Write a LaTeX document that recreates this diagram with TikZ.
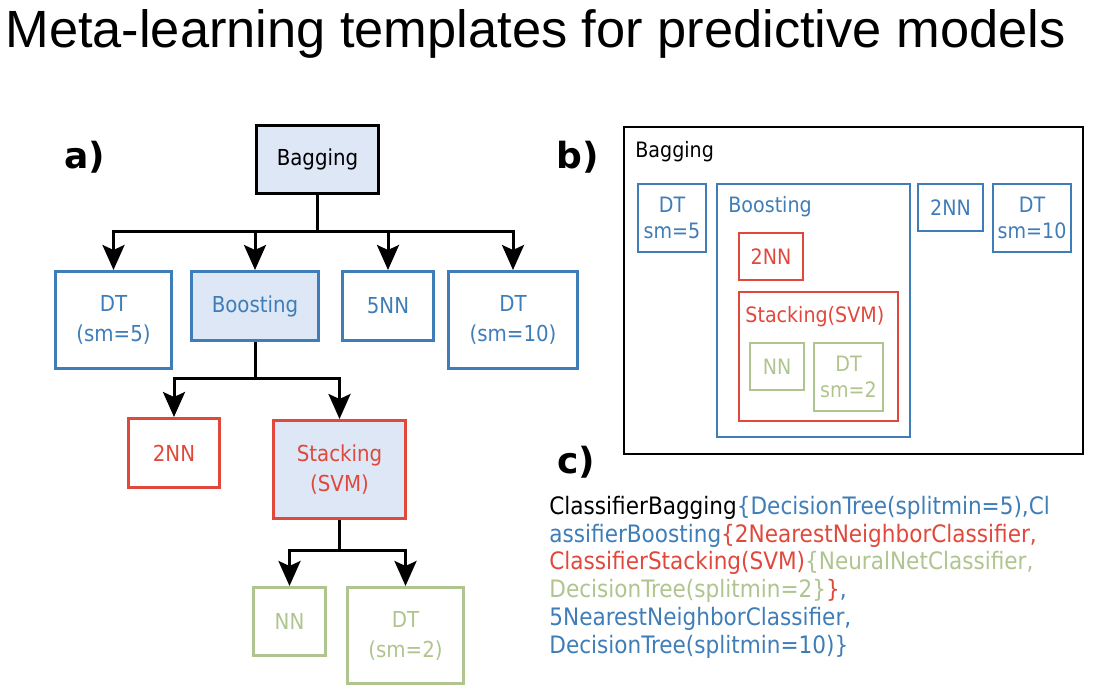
\documentclass[tikz,border=0pt]{standalone}
\usepackage{fontspec}
\usetikzlibrary{arrows.meta, positioning, calc}
\newfontfamily\titlefont{Liberation Sans}
\newfontfamily\boxfont{DejaVu Sans Condensed}
\newfontfamily\panelfont{DejaVu Sans}
\definecolor{tblue}{HTML}{3F7DB8}
\definecolor{tred}{HTML}{E0483C}
\definecolor{tgreen}{HTML}{AFC48E}
\definecolor{tfill}{HTML}{DDE7F6}

\begin{document}
\begin{tikzpicture}[
    x=0.5pt, y=-0.5pt,
    box/.style={rectangle, draw, line width=1.5pt, anchor=north west, inner sep=0pt, align=center, font=\boxfont\fontsize{11}{15}\selectfont},
    sbox/.style={box, line width=1pt, font=\boxfont\fontsize{10.6}{13}\selectfont},
    lbl/.style={anchor=base west, inner sep=0pt, font=\boxfont\fontsize{10.6}{13}\selectfont},
    panel/.style={anchor=base west, inner sep=0pt, font=\panelfont\bfseries\fontsize{18}{18}\selectfont},
    code/.style={anchor=base west, inner sep=0pt, font=\boxfont\fontsize{12}{14}\selectfont},
    arrow/.style={-{Stealth[length=12.5pt, width=11pt, inset=2.5pt]}, line width=1.5pt},
]
\useasboundingbox (0,0) rectangle (1111,691);

\node[anchor=base west, inner sep=0pt, font=\titlefont\fontsize{26.2}{30}\selectfont] (title) at (5,47) {Meta-learning templates for predictive models};

% Panel labels
\node[panel] (la) at (64,168) {a)};
\node[panel] (lb) at (556,168) {b)};
\node[panel] (lc) at (557,473) {c)};

% a) tree
\node[box, fill=tfill, minimum width=61pt, minimum height=34pt] (bag) at (255,124) {Bagging};
\node[box, draw=tblue, text=tblue, minimum width=58pt, minimum height=48.5pt] (dtA) at (54,270) {DT\\(sm=5)};
\node[box, draw=tblue, text=tblue, fill=tfill, minimum width=63.5pt, minimum height=34.5pt] (boostA) at (190,270) {Boosting};
\node[box, draw=tblue, text=tblue, minimum width=45.5pt, minimum height=34.5pt] (knnA) at (341,270) {5NN};
\node[box, draw=tblue, text=tblue, minimum width=64.5pt, minimum height=48.5pt] (dtB) at (447,270) {DT\\(sm=10)};
\node[box, draw=tred, text=tred, minimum width=45.5pt, minimum height=34.5pt] (nnA) at (127,417) {2NN};
\node[box, draw=tred, text=tred, fill=tfill, minimum width=66pt, minimum height=49pt] (stackA) at (272,419) {Stacking\\(SVM)};
\node[box, draw=tgreen, text=tgreen, minimum width=36pt, minimum height=34pt] (nnC) at (252,586) {NN};
\node[box, draw=tgreen, text=tgreen, minimum width=58pt, minimum height=48pt] (dtC) at (346,586) {DT\\(sm=2)};

\coordinate (jA) at (bag.south |- 0,231);
\coordinate (jB) at (boostA.south |- 0,378);
\coordinate (jC) at (stackA.south |- 0,550);
\draw[line width=1.5pt] (bag.south) -- (jA);
\draw[line width=1.5pt] (boostA.south) -- (jB);
\draw[line width=1.5pt] (stackA.south) -- (jC);
\foreach \c in {dtA, boostA, knnA, dtB}
    \draw[arrow] (jA) -| (\c.north);
\foreach \c in {nnA, stackA}
    \draw[arrow] (jB) -| (\c.north);
\foreach \c in {nnC, dtC}
    \draw[arrow] (jC) -| (\c.north);

% b) nested boxes
\node[sbox, line width=1.2pt, minimum width=229.5pt, minimum height=163.5pt] (outB) at (623,126) {};
\node[lbl] (outL) at (635,157) {Bagging};
\node[sbox, draw=tblue, text=tblue, minimum width=34pt, minimum height=34pt] (dt5B) at (637,183) {DT\\sm=5};
\node[sbox, draw=tblue, minimum width=96.5pt, minimum height=126.5pt] (boostB) at (716,183) {};
\node[lbl, text=tblue] (boostL) at (728,212) {Boosting};
\node[sbox, draw=tblue, text=tblue, minimum width=32.5pt, minimum height=23.5pt] (nn2B) at (917,183) {2NN};
\node[sbox, draw=tblue, text=tblue, minimum width=39pt, minimum height=34pt] (dt10B) at (992,183) {DT\\sm=10};
\node[sbox, draw=tred, text=tred, minimum width=32pt, minimum height=23.5pt] (nn2R) at (738,232) {2NN};
\node[sbox, draw=tred, minimum width=79.5pt, minimum height=64.5pt] (stackB) at (738,291) {};
\node[lbl, text=tred] (stackL) at (745,322) {Stacking(SVM)};
\node[sbox, draw=tgreen, text=tgreen, minimum width=27pt, minimum height=23.5pt] (nnG) at (749,342) {NN};
\node[sbox, draw=tgreen, text=tgreen, minimum width=34.5pt, minimum height=34pt] (dt2G) at (813,342) {DT\\sm=2};

% c) template string
\node[code] (c1) at (549,514) {ClassifierBagging\textcolor{tblue}{\{DecisionTree(splitmin=5),Cl}};
\node[code, text=tblue] (c2) at (549,542) {assifierBoosting\textcolor{tred}{\{2NearestNeighborClassifier,}};
\node[code, text=tred] (c3) at (549,569.5) {ClassifierStacking(SVM)\textcolor{tgreen}{\{NeuralNetClassifier,}};
\node[code, text=tgreen] (c4) at (549,597) {DecisionTree(splitmin=2\}\textcolor{tred}{\}}\textcolor{tblue}{,}};
\node[code, text=tblue] (c5) at (549,625) {5NearestNeighborClassifier,};
\node[code, text=tblue] (c6) at (549,653) {DecisionTree(splitmin=10)\}};

\end{tikzpicture}
\end{document}
